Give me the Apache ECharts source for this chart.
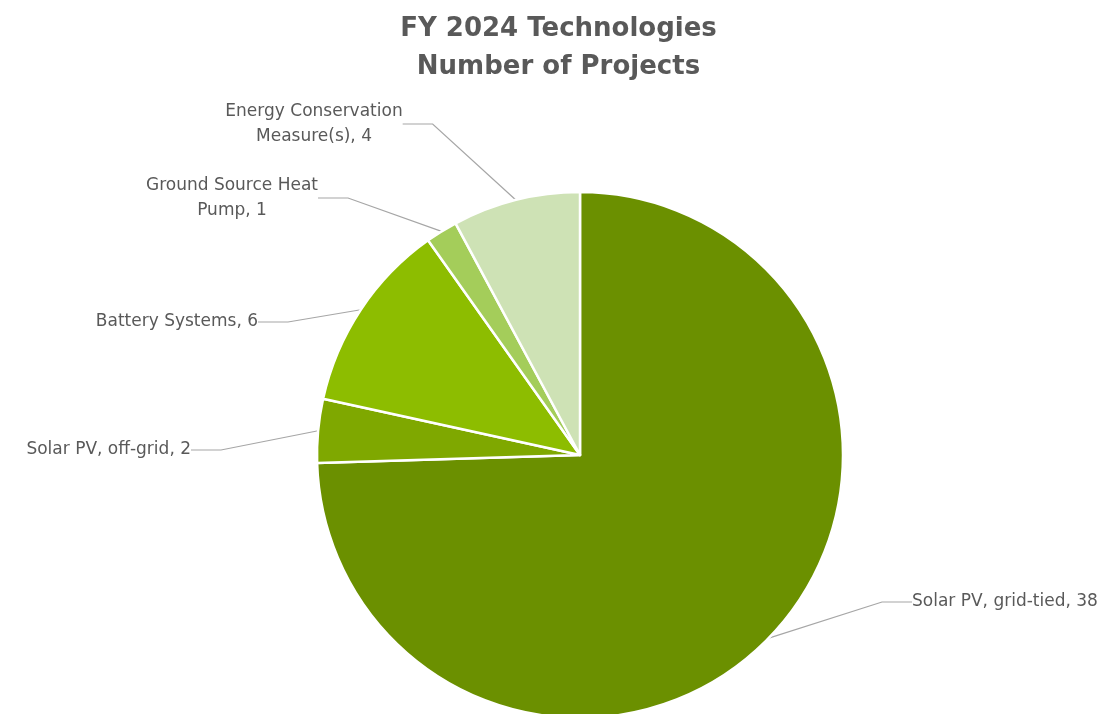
<!DOCTYPE html>
<html><head><meta charset="utf-8">
<script src="https://cdn.jsdelivr.net/npm/echarts@6/dist/echarts.min.js"></script>
<style>html,body{margin:0;padding:0;background:#fff}#c{width:1117px;height:714px}</style>
</head><body><div id="c"></div>
<script>
const categories = ["Solar PV, grid-tied", "Solar PV, off-grid", "Battery Systems", "Ground Source Heat Pump", "Energy Conservation Measure(s)"];
const projects = [38, 2, 6, 1, 4];
const colors = ["#6B9000", "#7FA800", "#8DBD00", "#A4CD5A", "#CEE2B5"];
const titleLines = ["FY 2024 Technologies", "Number of Projects"];
// label anchor positions (layout only)
const labelPos = [
  {x: 912, y: 602, align: 'left'},
  {x: 191, y: 450, align: 'right'},
  {x: 258, y: 322, align: 'right'},
  {x: 232, y: 198, align: 'center'},
  {x: 314, y: 124, align: 'center'}
];
const chart = echarts.init(document.getElementById('c'), null, {renderer: 'canvas'});
chart.setOption({
  backgroundColor: '#fff',
  animation: false,
  title: {
    text: titleLines.join('\n'), left: 'center', top: 5,
    textStyle: {fontFamily: 'DejaVu Sans', fontSize: 26, fontWeight: 'bold', color: '#595959', lineHeight: 38}
  },
  series: [{
    type: 'pie',
    center: [580, 455],
    radius: [0, 263],
    startAngle: 90,
    clockwise: true,
    data: categories.map((n, i) => ({name: n, value: projects[i], itemStyle: {color: colors[i]}})),
    itemStyle: {borderColor: '#fff', borderWidth: 2.5},
    label: {
      show: true, position: 'outside',
      formatter: p => {
        const wraps = {"Ground Source Heat Pump": "Ground Source Heat\nPump", "Energy Conservation Measure(s)": "Energy Conservation\nMeasure(s)"};
        return (wraps[p.name] || p.name) + ', ' + p.value;
      },
      fontFamily: 'DejaVu Sans', fontSize: 17, color: '#595959', lineHeight: 25, align: 'center'
    },
    labelLine: {show: true, lineStyle: {color: '#A6A6A6', width: 1.2}},
    labelLayout: function (params) {
      const p = labelPos[params.dataIndex];
      return {x: p.x, y: p.y, align: p.align, verticalAlign: 'middle'};
    }
  }]
});
</script></body></html>
